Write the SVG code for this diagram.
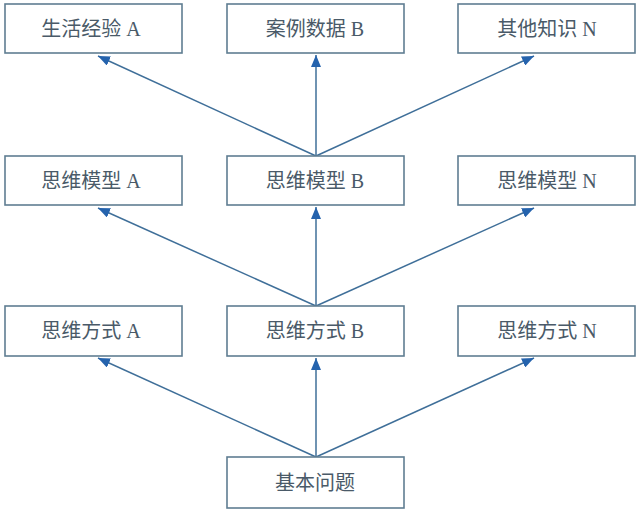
<svg xmlns="http://www.w3.org/2000/svg" width="640" height="515" viewBox="0 0 640 515">
<defs>
<marker id="ah" viewBox="0 0 12 10" refX="12" refY="5" markerWidth="12" markerHeight="10" markerUnits="userSpaceOnUse" orient="auto">
<path d="M0,0 L12,5 L0,10 Z" fill="#2563ad"/>
</marker>
<style>
.box{fill:#ffffff;stroke:#5f7d92;stroke-width:1.6}
.t{font-family:"Liberation Serif","Noto Sans CJK SC",serif;font-size:20px;fill:#4a5a68;text-anchor:middle}
.c{stroke:#3f6f99;stroke-width:1.5;fill:none;marker-end:url(#ah)}
</style>
</defs>
<rect width="640" height="515" fill="#ffffff"/>
<g id="connectors">
<line class="c" x1="316" y1="156" x2="98" y2="56"/>
<line class="c" x1="316" y1="156" x2="316" y2="55"/>
<line class="c" x1="316" y1="156" x2="534" y2="56"/>
<line class="c" x1="316" y1="306" x2="98" y2="208"/>
<line class="c" x1="316" y1="306" x2="316" y2="207"/>
<line class="c" x1="316" y1="306" x2="534" y2="208"/>
<line class="c" x1="316" y1="457" x2="98" y2="358"/>
<line class="c" x1="316" y1="457" x2="316" y2="358"/>
<line class="c" x1="316" y1="457" x2="534" y2="358"/>
</g>
<g id="n1"><rect class="box" x="5" y="4" width="177" height="49"/><text class="t" x="91" y="36">生活经验 A</text></g>
<g id="n2"><rect class="box" x="227" y="4" width="177" height="49"/><text class="t" x="315" y="36">案例数据 B</text></g>
<g id="n3"><rect class="box" x="458" y="4" width="177" height="49"/><text class="t" x="547" y="36">其他知识 N</text></g>
<g id="n4"><rect class="box" x="5" y="156" width="177" height="49"/><text class="t" x="91" y="188">思维模型 A</text></g>
<g id="n5"><rect class="box" x="227" y="156" width="177" height="49"/><text class="t" x="315" y="188">思维模型 B</text></g>
<g id="n6"><rect class="box" x="458" y="156" width="177" height="49"/><text class="t" x="547" y="188">思维模型 N</text></g>
<g id="n7"><rect class="box" x="5" y="306" width="177" height="50"/><text class="t" x="91" y="338">思维方式 A</text></g>
<g id="n8"><rect class="box" x="227" y="306" width="177" height="50"/><text class="t" x="315" y="338">思维方式 B</text></g>
<g id="n9"><rect class="box" x="458" y="306" width="177" height="50"/><text class="t" x="547" y="338">思维方式 N</text></g>
<g id="n10"><rect class="box" x="227" y="457" width="177" height="51"/><text class="t" x="315" y="490">基本问题</text></g>
</svg>
